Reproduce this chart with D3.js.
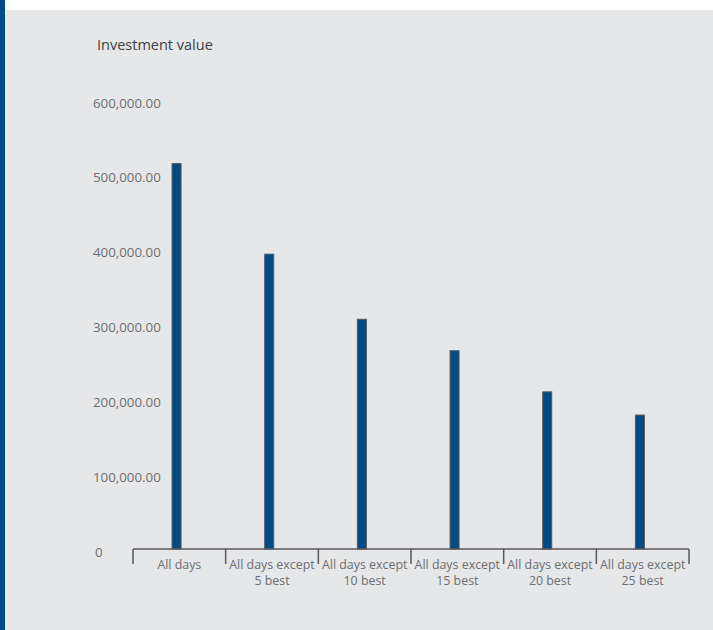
<!DOCTYPE html>
<html>
<head>
<meta charset="utf-8">
<script src="https://cdn.jsdelivr.net/npm/d3@7"></script>
<style>
  html, body { margin: 0; padding: 0; background: #ffffff; }
  svg { display: block; }
</style>
</head>
<body>
<svg id="chart" width="713" height="630"></svg>
<script>
const categories = [
  ["All days"],
  ["All days except", "5 best"],
  ["All days except", "10 best"],
  ["All days except", "15 best"],
  ["All days except", "20 best"],
  ["All days except", "25 best"]
];
const values = [515000, 394000, 307000, 265000, 210000, 179000];
const yTicks = [0, 100000, 200000, 300000, 400000, 500000, 600000];
const yTitle = "Investment value";

const W = 713, H = 630;
const svg = d3.select("#chart");

svg.append("rect").attr("x", 0).attr("y", 0).attr("width", W).attr("height", H).attr("fill", "#ffffff");
svg.append("rect").attr("x", 0).attr("y", 10).attr("width", W).attr("height", H - 10).attr("fill", "#e6e7e8");
svg.append("rect").attr("x", 0).attr("y", 0).attr("width", 5).attr("height", H).attr("fill", "#004a85");

const x = d3.scaleBand().domain(d3.range(categories.length)).range([133, 689]).paddingInner(0).paddingOuter(0);
const y = d3.scaleLinear().domain([0, 600000]).range([549, 100]);

const fmt = v => v === 0 ? "0" : d3.format(",.2f")(v);
const FONT = "'Open Sans', sans-serif";

svg.append("g").selectAll("text").data(yTicks).join("text")
  .attr("x", d => d === 0 ? 95 : 93)
  .attr("y", d => y(d) + 3)
  .attr("dy", "0.35em")
  .attr("text-anchor", "start")
  .attr("font-family", FONT)
  .attr("font-size", 13.3)
  .attr("fill", "#6d6e71")
  .text(fmt);

svg.append("text")
  .attr("x", 97).attr("y", 50)
  .attr("font-family", FONT)
  .attr("font-size", 14.5)
  .attr("fill", "#414042")
  .text(yTitle);

const barW = 9;
svg.append("g").selectAll("rect").data(values).join("rect")
  .attr("x", (d, i) => x(i) + x.bandwidth() * 0.47 - barW / 2)
  .attr("y", d => y(d))
  .attr("width", barW)
  .attr("height", d => y(0) - y(d))
  .attr("fill", "#004a85")
  .attr("stroke", "#58595b")
  .attr("stroke-width", 1);

const axisG = svg.append("g");
axisG.append("line")
  .attr("x1", x.range()[0]).attr("x2", x.range()[1])
  .attr("y1", y(0)).attr("y2", y(0))
  .attr("stroke", "#58595b").attr("stroke-width", 1.5);
const bounds = d3.range(categories.length + 1).map(i => i < categories.length ? x(i) : x.range()[1]);
axisG.selectAll("line.tick").data(bounds).join("line")
  .attr("class", "tick")
  .attr("x1", d => d).attr("x2", d => d)
  .attr("y1", y(0)).attr("y2", y(0) + 15)
  .attr("stroke", "#58595b").attr("stroke-width", 1.5);

const lab = svg.append("g").selectAll("text").data(categories).join("text")
  .attr("text-anchor", "middle")
  .attr("font-family", FONT)
  .attr("font-size", 12.4)
  .attr("fill", "#6d6e71");
lab.each(function(d, i) {
  const t = d3.select(this);
  d.forEach((line, j) => {
    t.append("tspan")
      .attr("x", x(i) + x.bandwidth() / 2)
      .attr("y", 569 + j * 16)
      .text(line);
  });
});
</script>
</body>
</html>
